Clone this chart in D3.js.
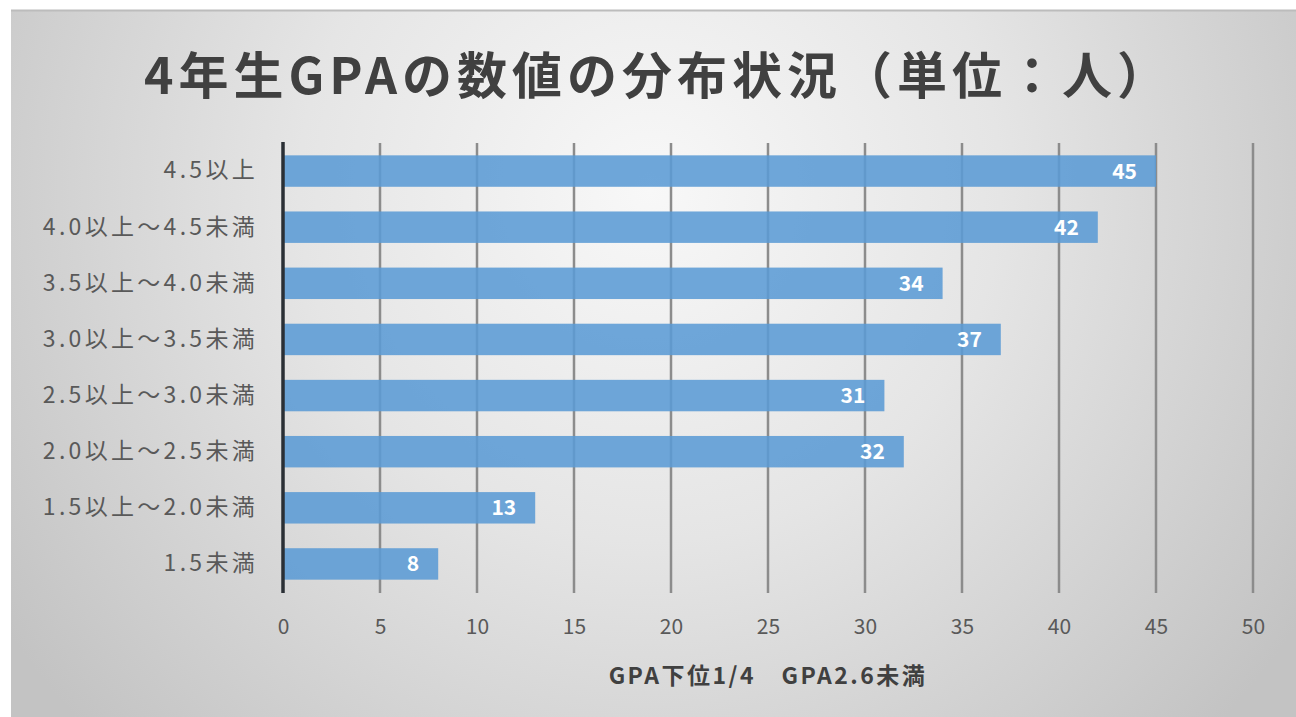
<!DOCTYPE html>
<head>
	<meta charset="utf-8">
	<script src="https://d3js.org/d3.v7.min.js"></script>
	<style>
		body { margin: 0; background: #fff; }
		text { font-family: "Noto Sans CJK JP", "Open Sans", sans-serif; }
	</style>
</head>
<body>
	<svg id="chart" width="1296" height="717"></svg>
	<script>

	// Data
	var categories = ["4.5以上", "4.0以上～4.5未満", "3.5以上～4.0未満", "3.0以上～3.5未満",
		"2.5以上～3.0未満", "2.0以上～2.5未満", "1.5以上～2.0未満", "1.5未満"];
	var counts = [45, 42, 34, 37, 31, 32, 13, 8];
	var xTicks = [0, 5, 10, 15, 20, 25, 30, 35, 40, 45, 50];
	var titleText = "4年生GPAの数値の分布状況（単位：人）";
	var axisTitle = "GPA下位1/4　GPA2.6未満";

	var svg = d3.select("#chart"),
		width = +svg.attr("width"),
		height = +svg.attr("height");

	// background gradient panel
	var defs = svg.append("defs");
	var grad = defs.append("radialGradient")
		.attr("id", "bg")
		.attr("gradientUnits", "userSpaceOnUse")
		.attr("cx", 650).attr("cy", 190).attr("r", 780);
	grad.append("stop").attr("offset", "0%").attr("stop-color", "#f8f8f8");
	grad.append("stop").attr("offset", "45%").attr("stop-color", "#e5e5e5");
	grad.append("stop").attr("offset", "100%").attr("stop-color", "#c3c3c3");

	svg.append("rect")
		.attr("x", 11).attr("y", 10)
		.attr("width", width - 11).attr("height", height - 10)
		.attr("fill", "url(#bg)");
	svg.append("line")
		.attr("x1", 11).attr("x2", width).attr("y1", 10.5).attr("y2", 10.5)
		.attr("stroke", "#bcbcbc").attr("stroke-width", 2);

	// scales
	var x = d3.scaleLinear().domain([0, 50]).range([283, 1253]);
	var y = d3.scaleBand().domain(categories).range([143, 592]).paddingInner(0.44).paddingOuter(0.22);

	// gridlines
	svg.append("g")
		.selectAll("line")
		.data(xTicks.slice(1))
		.enter()
		.append("line")
		.attr("x1", function(d) { return x(d); })
		.attr("x2", function(d) { return x(d); })
		.attr("y1", 143).attr("y2", 593)
		.attr("stroke", "#8c8c8c")
		.attr("stroke-width", 2.5);

	// bars
	svg.append("g")
		.selectAll("rect")
		.data(counts)
		.enter()
		.append("rect")
		.attr("x", x(0))
		.attr("y", function(d, i) { return y(categories[i]); })
		.attr("width", function(d) { return x(d) - x(0); })
		.attr("height", y.bandwidth())
		.attr("fill", "#5b9bd5")
		.attr("fill-opacity", 0.88);

	// value labels
	svg.append("g")
		.selectAll("text")
		.data(counts)
		.enter()
		.append("text")
		.attr("x", function(d) { return x(d) - 19; })
		.attr("y", function(d, i) { return y(categories[i]) + y.bandwidth() / 2; })
		.attr("dy", "0.36em")
		.attr("text-anchor", "end")
		.attr("fill", "#fff")
		.attr("font-weight", "bold")
		.attr("font-size", 21)
		.attr("font-family", "'Open Sans', sans-serif")
		.text(function(d) { return d; });

	// vertical axis line
	svg.append("line")
		.attr("x1", x(0)).attr("x2", x(0))
		.attr("y1", 142).attr("y2", 593)
		.attr("stroke", "#2a2f35").attr("stroke-width", 3.5);

	// category labels
	var yAxis = svg.append("g")
		.attr("transform", "translate(" + (x(0) - 25) + ",0)")
		.call(d3.axisLeft(y).tickSize(0).tickPadding(0));
	yAxis.select(".domain").remove();
	yAxis.selectAll("text")
		.attr("font-size", 23)
		.attr("letter-spacing", 3.3)
		.attr("fill", "#595959")
		.attr("font-family", "'Noto Sans CJK JP', sans-serif");

	// x tick labels
	var xAxis = svg.append("g")
		.attr("transform", "translate(0,593)")
		.call(d3.axisBottom(x).tickValues(xTicks).tickSize(0).tickPadding(26));
	xAxis.select(".domain").remove();
	xAxis.selectAll("text")
		.attr("font-size", 21)
		.attr("fill", "#595959")
		.attr("font-family", "'Open Sans', sans-serif");

	// axis title
	svg.append("text")
		.attr("x", 768)
		.attr("y", 684)
		.attr("text-anchor", "middle")
		.attr("font-size", 23)
		.attr("letter-spacing", 2.5)
		.attr("font-weight", "bold")
		.attr("fill", "#404040")
		.text(axisTitle);

	// title
	svg.append("text")
		.attr("x", 658)
		.attr("y", 94)
		.attr("text-anchor", "middle")
		.attr("font-size", 50)
		.attr("letter-spacing", 5)
		.attr("font-weight", "bold")
		.attr("fill", "#404040")
		.attr("font-family", "'Noto Sans CJK JP', sans-serif")
		.text(titleText);

</script>
</body>
</html>
